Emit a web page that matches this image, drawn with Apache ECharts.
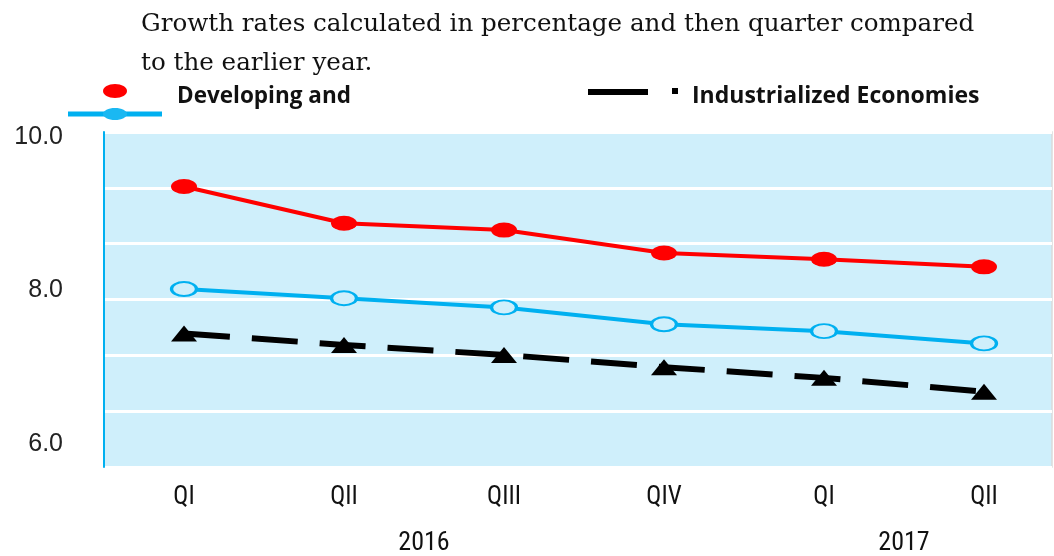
<!DOCTYPE html>
<html>
<head>
<meta charset="utf-8">
<script src="https://cdn.jsdelivr.net/npm/echarts@6/dist/echarts.min.js"></script>
<style>
html,body{margin:0;padding:0;background:#fff;}
#chart{width:1054px;height:556px;}
</style>
</head>
<body>
<div id="chart"></div>
<script>
// ---- data ----
const quarters = ['QI', 'QII', 'QIII', 'QIV', 'QI', 'QII'];
const yearLabels = ['2016', '2017'];
const yearPositions = [1.5, 4.5];
const developing = [9.36, 8.88, 8.79, 8.49, 8.41, 8.31];
const developingAndTransition = [8.02, 7.90, 7.78, 7.56, 7.47, 7.31];
const industrialized = [7.44, 7.29, 7.16, 7.00, 6.86, 6.68];
const yTickValues = [6, 8, 10];
const titleText = 'Growth rates calculated in percentage and then quarter compared\nto the earlier year.';

const toPairs = arr => arr.map((v, i) => [i, v]);

const chart = echarts.init(document.getElementById('chart'));
const bg = '#cfeffb';
const narrow = "'Liberation Sans Narrow', 'Roboto Condensed', 'Liberation Sans', sans-serif";

chart.setOption({
  animation: false,
  title: {
    text: titleText,
    left: 136, top: 0,
    textStyle: { fontFamily: "'DejaVu Serif', serif", fontSize: 24.6, fontWeight: 'normal', color: '#111', lineHeight: 39 }
  },
  grid: {
    left: 104, right: 2, top: 132, bottom: 86,
    show: true, backgroundColor: bg, borderColor: '#dadada', borderWidth: 1.5
  },
  xAxis: [
    {
      type: 'value', min: -0.5, max: 5.425,
      axisLine: { show: false }, axisTick: { show: false }, splitLine: { show: false },
      axisLabel: {
        customValues: quarters.map((q, i) => i),
        formatter: v => quarters[Math.round(v)],
        margin: 18, fontFamily: narrow, fontSize: 25, color: '#111'
      }
    },
    {
      type: 'value', min: -0.5, max: 5.425, position: 'bottom',
      axisLine: { show: false }, axisTick: { show: false }, splitLine: { show: false },
      axisLabel: {
        customValues: yearPositions,
        formatter: v => yearLabels[yearPositions.indexOf(v)],
        margin: 63, fontFamily: narrow, fontSize: 26, color: '#111'
      }
    }
  ],
  yAxis: [
    {
      type: 'value', min: 5.696, max: 10.071,
      axisLine: { show: true, onZero: false, lineStyle: { color: '#00b0f0', width: 2 } },
      axisTick: { show: false }, splitLine: { show: false },
      axisLabel: {
        customValues: yTickValues,
        formatter: v => v.toFixed(1),
        margin: 41, fontFamily: "'Liberation Sans', sans-serif", fontSize: 25, color: '#222'
      }
    },
    {
      type: 'value', min: 0, max: 6, interval: 1,
      axisLine: { show: false }, axisTick: { show: false }, axisLabel: { show: false },
      splitLine: { show: true, lineStyle: { color: '#ffffff', width: 3 } }
    }
  ],
  series: [
    {
      name: 'Industrialized Economies', type: 'line', xAxisIndex: 0, yAxisIndex: 0,
      data: toPairs(industrialized),
      symbol: 'triangle', symbolSize: [26, 16],
      lineStyle: { color: '#000', width: 6, type: [46, 22], cap: 'butt' },
      itemStyle: { color: '#000' }, z: 3
    },
    {
      name: 'Developing and Transition', type: 'line', xAxisIndex: 0, yAxisIndex: 0,
      data: toPairs(developingAndTransition),
      symbol: 'circle', symbolSize: [25, 14], showAllSymbol: true,
      lineStyle: { color: '#00b0f0', width: 4 },
      itemStyle: { color: bg, borderColor: '#00b0f0', borderWidth: 2.5 }, z: 4
    },
    {
      name: 'Developing', type: 'line', xAxisIndex: 0, yAxisIndex: 0,
      data: toPairs(developing),
      symbol: 'circle', symbolSize: [26, 15],
      lineStyle: { color: '#ff0000', width: 4 },
      itemStyle: { color: '#ff0000' }, z: 5
    }
  ],
  graphic: [
    { type: 'ellipse', shape: { cx: 115, cy: 91, rx: 12, ry: 7 }, style: { fill: '#ff0000' } },
    { type: 'line', shape: { x1: 68, y1: 114, x2: 162, y2: 114 }, style: { stroke: '#00b0f0', lineWidth: 5 } },
    { type: 'ellipse', shape: { cx: 115, cy: 114, rx: 12, ry: 6 }, style: { fill: '#1ab8f2' } },
    { type: 'text', left: 177, top: 85, style: { text: 'Developing and', font: "bold 22.5px 'Open Sans', sans-serif", fill: '#111' } },
    { type: 'line', shape: { x1: 588, y1: 92, x2: 648, y2: 92 }, style: { stroke: '#000', lineWidth: 6 } },
    { type: 'rect', shape: { x: 672, y: 88, width: 6, height: 6 }, style: { fill: '#000' } },
    { type: 'text', left: 692, top: 85, style: { text: 'Industrialized Economies', font: "bold 23px 'Open Sans', sans-serif", fill: '#111' } }
  ]
});
</script>
</body>
</html>
